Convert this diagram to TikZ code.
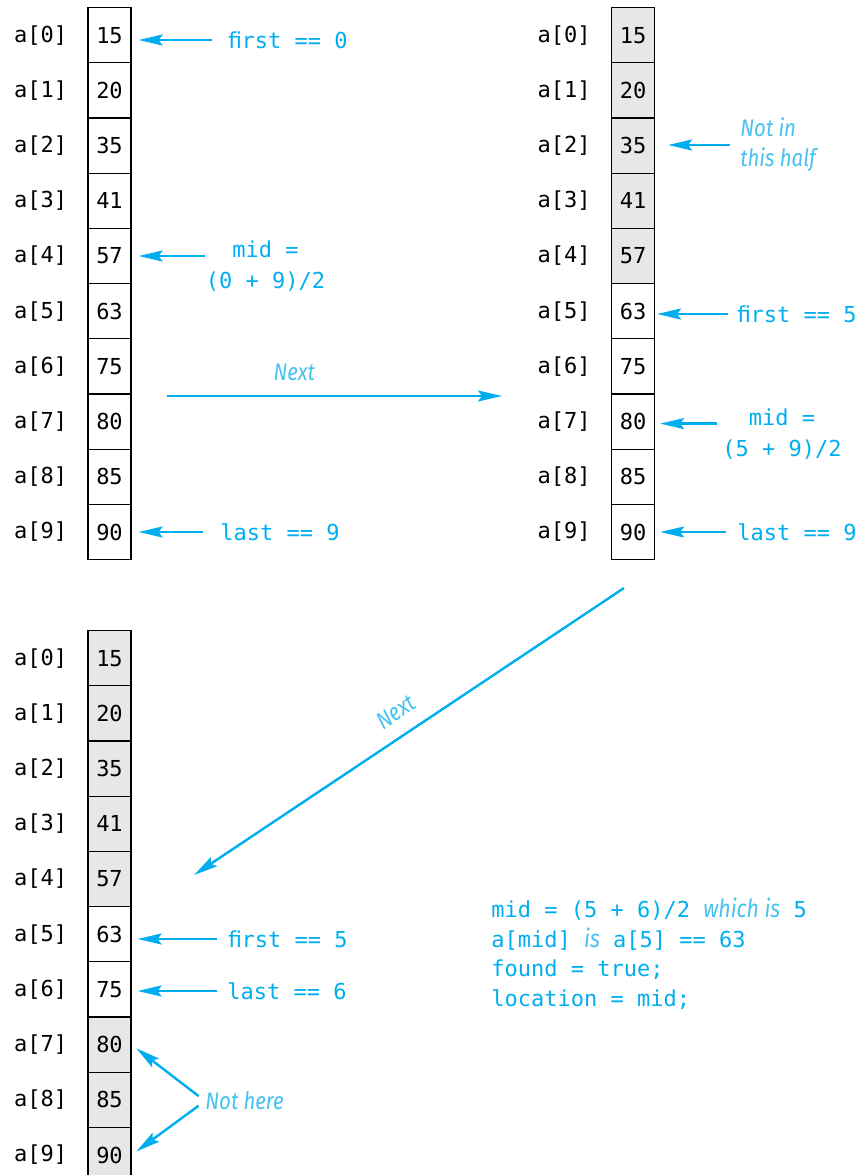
\documentclass[tikz,border=0pt]{standalone}
\usepackage{fontspec}
\setmonofont{DejaVu Sans Mono}
\newfontfamily\notefont[FakeStretch=0.85]{Fira Sans}
\usetikzlibrary{arrows.meta,positioning}
\definecolor{ptrcyan}{HTML}{00AEEF}
\definecolor{notecyan}{HTML}{45C1F0}
\definecolor{cellgray}{HTML}{E6E7E8}

\begin{document}
\begin{tikzpicture}[
  x=0.5pt, y=-0.5pt,
  font=\fontsize{11}{14}\selectfont\ttfamily,
  >={Stealth[length=12pt,width=5.5pt,inset=2pt]},
  cellbox/.style={
    draw=black,
    line width=0.6pt,
    minimum width=21.5pt,
    minimum height=27.6pt,
    inner sep=0pt,
    anchor=north
  },
  idxlabel/.style={inner sep=0pt},
  ptrlabel/.style={text=ptrcyan, inner sep=0pt},
  twoline/.style={align=center, font=\fontsize{11}{15.5}\selectfont\ttfamily},
  notetext/.style={text=notecyan, inner sep=0pt,
    font=\fontsize{12}{15}\selectfont\notefont\itshape},
  ptrarrow/.style={->, draw=ptrcyan, line width=1.2pt, shorten >=3.5pt},
  nextarrow/.style={->, draw=ptrcyan, line width=1.2pt}
]
  \useasboundingbox (0,0) rectangle (861,1175);

  % Left array: first search step
  \foreach \v [count=\i from 0] in {15,20,35,41,57,63,75,80,85,90} {
    \node[cellbox] (la\i) at (109.5, {7+55.2*\i}) {\v};
    \node[idxlabel, left=10pt of la\i] {a[\i]};
  }

  % Right array: second search step
  \foreach \v/\f [count=\i from 0] in {15/cellgray,20/cellgray,35/cellgray,41/cellgray,57/cellgray,
                                       63/white,75/white,80/white,85/white,90/white} {
    \node[cellbox, fill=\f] (ra\i) at (633, {7+55.2*\i}) {\v};
    \node[idxlabel, left=10pt of ra\i] {a[\i]};
  }

  % Bottom array: third search step
  \foreach \v/\f [count=\i from 0] in {15/cellgray,20/cellgray,35/cellgray,41/cellgray,57/cellgray,
                                       63/white,75/white,80/cellgray,85/cellgray,90/cellgray} {
    \node[cellbox, fill=\f] (ba\i) at (109.5, {630+55.2*\i}) {\v};
    \node[idxlabel, left=10pt of ba\i] {a[\i]};
  }

  % Pointers of the first step
  \node[ptrlabel, anchor=west] (lfirst) at (228,40) {ﬁrst == 0};
  \draw[ptrarrow, shorten <=8pt] (lfirst.west) -- (la0.east |- lfirst.west);

  \node[ptrlabel, twoline] (lmid) at (265.5,266) {mid =\\(0 + 9)/2};
  \draw[ptrarrow] (lmid.west |- la4) -- (la4.east);

  \node[ptrlabel, anchor=west] (llast) at (220,532) {last == 9};
  \draw[ptrarrow, shorten <=8.5pt] (llast.west) -- (la9.east |- llast.west);

  % Pointers of the second step
  \node[notetext, anchor=west, align=left] (rnote) at (740,145) {Not in\\this half};
  \draw[ptrarrow, shorten <=5pt, shorten >=6.5pt] (rnote.west) -- (ra2.east |- rnote.west);

  \node[ptrlabel, anchor=west] (rfirst) at (737,314) {ﬁrst == 5};
  \draw[ptrarrow, shorten <=4.5pt, shorten >=1pt] (rfirst.west) -- (ra5.east |- rfirst.west);

  \node[ptrlabel, twoline] (rmid) at (782,434) {mid =\\(5 + 9)/2};
  \coordinate (rmidend) at ([yshift=-1pt]ra7.east);
  \draw[ptrarrow, shorten <=2.5pt, shorten >=2.5pt] (rmid.west |- rmidend) -- (rmidend);

  \node[ptrlabel, anchor=west] (rlast) at (737,532) {last == 9};
  \draw[ptrarrow, shorten <=5.5pt, shorten >=2.5pt] (rlast.west) -- (ra9.east |- rlast.west);

  % Pointers of the third step
  \node[ptrlabel, anchor=west] (bfirst) at (228,939) {ﬁrst == 5};
  \draw[ptrarrow, shorten <=5.5pt, shorten >=3pt] (bfirst.west) -- (ba5.east |- bfirst.west);

  \node[ptrlabel, anchor=west] (blast) at (227,991) {last == 6};
  \draw[ptrarrow, shorten <=5pt, shorten >=3pt] (blast.west) -- (ba6.east |- blast.west);

  \node[notetext, anchor=west] (bnote) at (205,1101) {Not here};
  \draw[ptrarrow, shorten <=4pt, shorten >=3pt] (bnote.west) -- (ba7.east);
  \draw[ptrarrow, shorten <=4pt, shorten >=3pt] (bnote.west) -- (ba9.east);

  % Result of the third step
  \node[ptrlabel, anchor=north west, align=left,
        font=\fontsize{11}{14.75}\selectfont\ttfamily] (result) at (491,898) {%
    mid = (5 + 6)/2 {\color{notecyan}\fontsize{12.5}{14.75}\selectfont\notefont\itshape which is} 5\\
    a[mid] {\color{notecyan}\fontsize{12.5}{14.75}\selectfont\notefont\itshape is} a[5] == 63\\
    found = true;\\
    location = mid;};

  % Step arrows
  \coordinate (step1a) at (167,396);
  \coordinate (step1b) at (502,396);
  \draw[nextarrow] (step1a) -- node[notetext, pos=0.38, above=7pt] {Next} (step1b);

  \coordinate (step2a) at (624,588);
  \coordinate (step2b) at (194,875);
  \draw[nextarrow] (step2a) -- node[notetext, sloped, pos=0.5, above=7pt] {Next} (step2b);
\end{tikzpicture}
\end{document}
